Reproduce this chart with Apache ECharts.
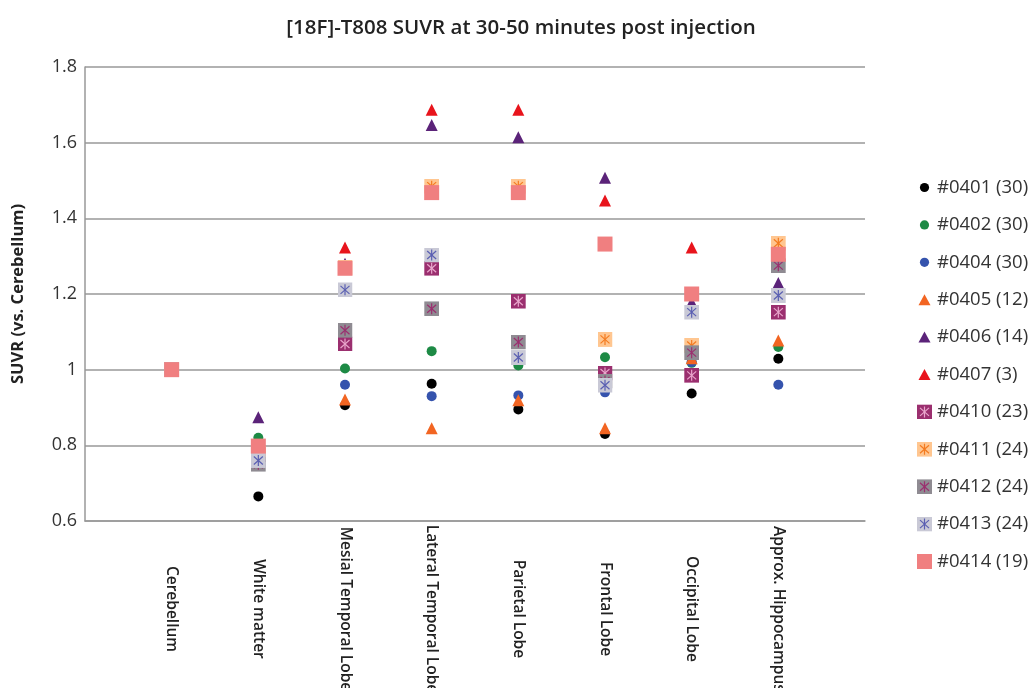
<!DOCTYPE html>
<html>
<head>
    <meta charset="utf-8">
    <title>[18F]-T808 SUVR</title>
    <script src="https://cdn.jsdelivr.net/npm/echarts@6.0.0/dist/echarts.min.js"></script>
    <style>
        body { margin: 0; padding: 0; background: #fff; }
        #chart { width: 1031px; height: 688px; }
    </style>
</head>
<body>
    <div id="chart"></div>
    <script>
        const regions = ['Cerebellum', 'White matter', 'Mesial Temporal Lobe', 'Lateral Temporal Lobe',
            'Parietal Lobe', 'Frontal Lobe', 'Occipital Lobe', 'Approx. Hippocampus'];
        const yTicks = [0.6, 0.8, 1, 1.2, 1.4, 1.6, 1.8];

        // one array per subject, values in region order
        const s0401 = [1, 0.665, 0.906, 0.963, 0.895, 0.83, 0.937, 1.029];
        const s0402 = [1, 0.82, 1.003, 1.049, 1.011, 1.033, 1.018, 1.06];
        const s0404 = [1, 0.79, 0.96, 0.93, 0.932, 0.94, 1.02, 0.96];
        const s0405 = [1, 0.78, 0.921, 0.845, 0.919, 0.845, 1.03, 1.077];
        const s0406 = [1, 0.874, 1.28, 1.647, 1.614, 1.507, 1.178, 1.229];
        const s0407 = [1, 0.79, 1.323, 1.687, 1.687, 1.447, 1.323, null];
        const s0410 = [1, 0.775, 1.068, 1.268, 1.181, 0.991, 0.985, 1.152];
        const s0411 = [1, 0.78, 1.27, 1.485, 1.485, 1.08, 1.064, 1.334];
        const s0412 = [1, 0.75, 1.104, 1.161, 1.073, 0.97, 1.045, 1.275];
        const s0413 = [1, 0.76, 1.211, 1.303, 1.032, 0.959, 1.152, 1.196];
        const s0414 = [1, 0.798, 1.268, 1.468, 1.468, 1.332, 1.2, 1.305];

        function svgIcon(body) {
            const svg = '<svg xmlns="http://www.w3.org/2000/svg" width="15" height="15" viewBox="0 0 15 15">' + body + '</svg>';
            return 'image://data:image/svg+xml;charset=utf-8,' + encodeURIComponent(svg);
        }
        function starSquare(fill, stroke) {
            return svgIcon('<rect x="0" y="0" width="15" height="15" fill="' + fill + '"/>' +
                '<g stroke="' + stroke + '" stroke-width="1.2" fill="none">' +
                '<line x1="7.5" y1="2" x2="7.5" y2="13"/>' +
                '<line x1="3" y1="3.5" x2="12" y2="11.5"/>' +
                '<line x1="12" y1="3.5" x2="3" y2="11.5"/></g>');
        }
        // smaller shapes for the legend keys
        const dotKey = c => svgIcon('<circle cx="7.5" cy="7.5" r="4.6" fill="' + c + '"/>');
        const triKey = c => svgIcon('<polygon points="7.5,2 13.5,13 1.5,13" fill="' + c + '"/>');

        const subjects = [
            { name: '#0401 (30)', data: s0401, symbol: 'circle', size: 10, color: '#000000' },
            { name: '#0402 (30)', data: s0402, symbol: 'circle', size: 10, color: '#1d8a45' },
            { name: '#0404 (30)', data: s0404, symbol: 'circle', size: 10, color: '#3553ad' },
            { name: '#0405 (12)', data: s0405, symbol: 'triangle', size: 12, color: '#f26522' },
            { name: '#0406 (14)', data: s0406, symbol: 'triangle', size: 12, color: '#5b2379' },
            { name: '#0407 (3)', data: s0407, symbol: 'triangle', size: 12, color: '#e8141c' },
            { name: '#0410 (23)', data: s0410, symbol: starSquare('#9b2f6f', '#e9a6cc'), size: 15, color: '#9b2f6f' },
            { name: '#0411 (24)', data: s0411, symbol: starSquare('#ffc690', '#f47b20'), size: 15, color: '#ffc690' },
            { name: '#0412 (24)', data: s0412, symbol: starSquare('#8f8b92', '#9b2f6f'), size: 15, color: '#8f8b92' },
            { name: '#0413 (24)', data: s0413, symbol: starSquare('#c9c9d6', '#5a5fb2'), size: 15, color: '#c9c9d6' },
            { name: '#0414 (19)', data: s0414, symbol: 'rect', size: 15, color: '#f07f80' }
        ];

        function legendIcon(s) {
            if (s.symbol === 'circle') return dotKey(s.color);
            if (s.symbol === 'triangle') return triKey(s.color);
            return s.symbol;
        }

        const chart = echarts.init(document.getElementById('chart'));
        const font = "'Open Sans', sans-serif";

        chart.setOption({
            animation: false,
            title: {
                text: '[18F]-T808 SUVR at 30-50 minutes post injection',
                left: 516, top: 13, textAlign: 'center',
                textStyle: { fontFamily: font, fontSize: 20.5, fontWeight: 600, color: '#222' }
            },
            legend: {
                orient: 'vertical',
                left: 912, top: 173,
                itemWidth: 15, itemHeight: 15, itemGap: 18.4, itemSpacing: 6,
                textStyle: { fontFamily: font, fontSize: 18.5, color: '#333' },
                data: subjects.map(s => ({ name: s.name, icon: legendIcon(s) }))
            },
            grid: { left: 85, right: 166, top: 67, bottom: 167, outerBoundsMode: 'none' },
            xAxis: {
                type: 'value', min: 0, max: 9, interval: 1,
                axisLine: { lineStyle: { color: '#999', width: 1.5 } },
                axisTick: { show: false },
                splitLine: { show: false },
                axisLabel: {
                    rotate: -90, margin: 88, align: 'center', verticalAlign: 'middle',
                    fontFamily: font, fontSize: 15.5, fontWeight: 600, color: '#222',
                    formatter: v => regions[v - 1] || ''
                }
            },
            yAxis: {
                type: 'value', min: yTicks[0], max: yTicks[yTicks.length - 1], interval: 0.2,
                name: 'SUVR (vs. Cerebellum)', nameLocation: 'middle', nameGap: 58,
                nameTextStyle: { fontFamily: font, fontSize: 16.5, fontWeight: 'bold', color: '#222' },
                axisLine: { show: true, lineStyle: { color: '#999', width: 1.5 } },
                axisTick: { show: false },
                splitLine: { lineStyle: { color: '#999', width: 1.5 } },
                axisLabel: { fontFamily: font, fontSize: 18, color: '#333', margin: 8 }
            },
            series: subjects.map(s => ({
                name: s.name,
                type: 'scatter',
                symbol: s.symbol,
                symbolSize: s.size,
                itemStyle: { color: s.color, opacity: 1 },
                data: s.data.map((v, i) => [i + 1, v]).filter(p => p[1] != null)
            }))
        });
    </script>
</body>
</html>
